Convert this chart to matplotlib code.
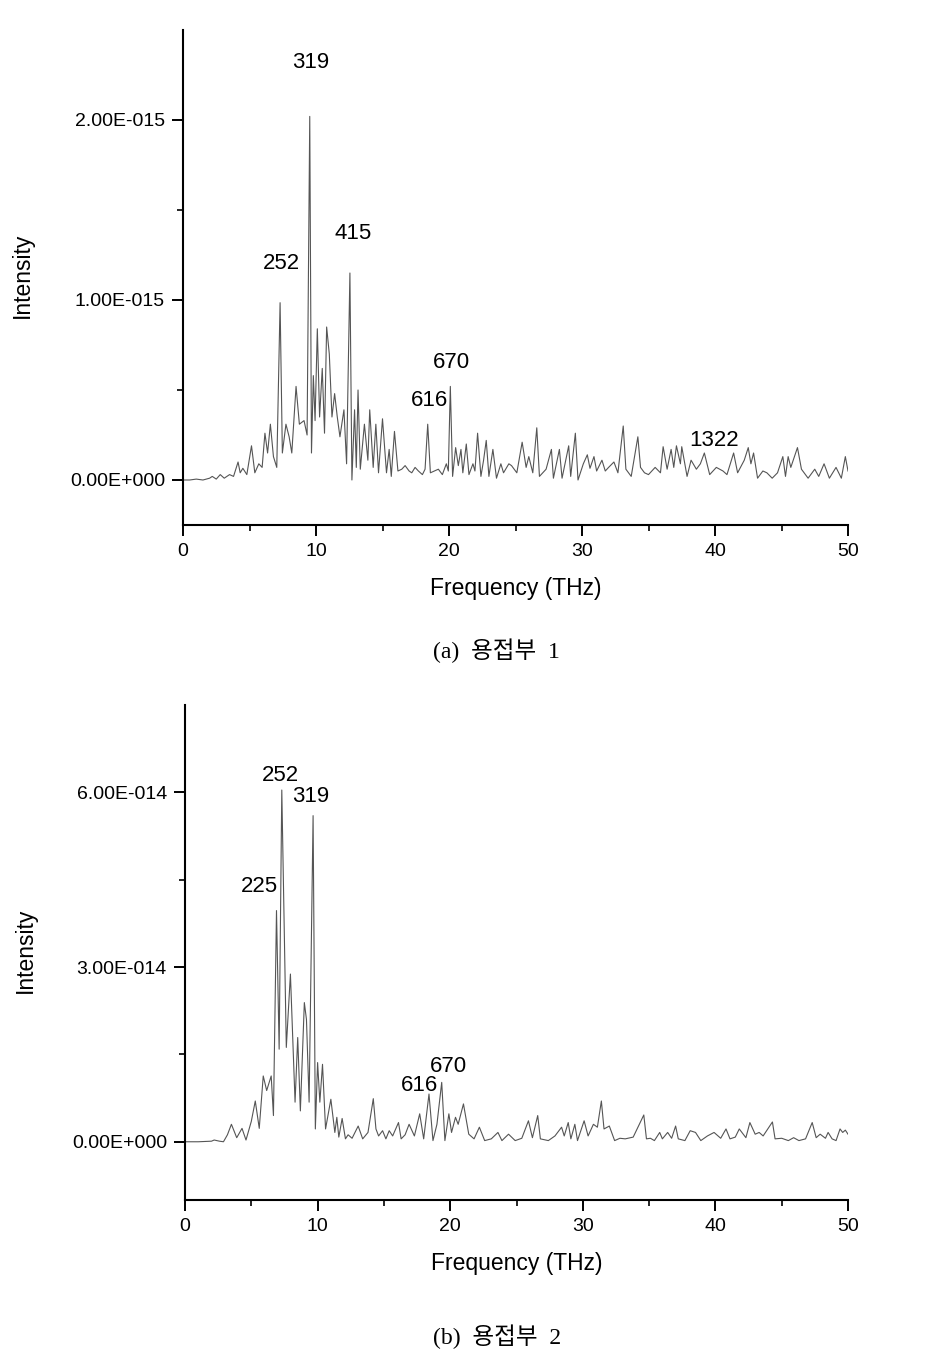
import numpy as np
import matplotlib
matplotlib.use("Agg")
import matplotlib.pyplot as plt

plt.rcParams['font.family'] = ['Liberation Sans', 'DejaVu Sans']

# (a) weld zone 1 -- intensity in units of 1e-15
freq_a = [0.0, 0.5, 1.0, 1.5, 2.0, 2.2, 2.5, 2.8, 3.1, 3.5, 3.8, 4.14, 4.3, 4.5, 4.8, 5.15, 5.4, 5.7, 5.95,
          6.16, 6.36, 6.57, 6.8, 7.05, 7.3, 7.47, 7.74, 7.98, 8.18, 8.5, 8.75, 9.1, 9.33, 9.53, 9.66, 9.8,
          9.93, 10.1, 10.27, 10.47, 10.64, 10.8, 11.0, 11.2, 11.4, 11.6, 11.8, 12.1, 12.3, 12.55, 12.7, 12.9,
          13.03, 13.16, 13.33, 13.64, 13.9, 14.04, 14.3, 14.5, 14.7, 15.0, 15.3, 15.5, 15.66, 15.9, 16.16,
          16.45, 16.7, 17.0, 17.2, 17.45, 17.7, 18.0, 18.2, 18.4, 18.6, 18.9, 19.2, 19.5, 19.8, 19.95, 20.1,
          20.27, 20.5, 20.7, 20.9, 21.04, 21.3, 21.5, 21.8, 21.95, 22.15, 22.4, 22.6, 22.8, 23.0, 23.3, 23.57,
          23.9, 24.1, 24.5, 24.7, 25.1, 25.5, 25.8, 26.0, 26.3, 26.6, 26.8, 27.05, 27.3, 27.7, 27.85, 28.3,
          28.5, 29.0, 29.15, 29.5, 29.7, 30.1, 30.4, 30.6, 30.9, 31.1, 31.5, 31.75, 32.0, 32.4, 32.7, 33.1,
          33.3, 33.7, 34.2, 34.4, 34.7, 35.0, 35.5, 35.9, 36.1, 36.4, 36.7, 36.9, 37.1, 37.4, 37.5, 37.9,
          38.2, 38.6, 38.9, 39.2, 39.6, 40.1, 40.6, 40.9, 41.4, 41.7, 42.2, 42.5, 42.7, 42.9, 43.2, 43.6,
          43.9, 44.3, 44.7, 45.1, 45.3, 45.5, 45.7, 46.2, 46.5, 47.0, 47.5, 47.8, 48.2, 48.6, 49.1, 49.5,
          49.8, 50.0]
inten_a = [0.0, 0.0, 0.005, 0.0, 0.01, 0.02, 0.005, 0.03, 0.01, 0.03, 0.02, 0.10, 0.04, 0.065, 0.03, 0.19, 0.04,
           0.09, 0.07, 0.26, 0.15, 0.31, 0.13, 0.07, 0.985, 0.15, 0.31, 0.24, 0.15, 0.52, 0.31, 0.33, 0.25,
           2.02, 0.15, 0.58, 0.33, 0.84, 0.35, 0.62, 0.26, 0.85, 0.70, 0.35, 0.48, 0.35, 0.24, 0.39, 0.09,
           1.15, 0.0, 0.39, 0.07, 0.50, 0.06, 0.31, 0.11, 0.39, 0.07, 0.31, 0.04, 0.34, 0.04, 0.17, 0.02,
           0.27, 0.05, 0.06, 0.08, 0.05, 0.04, 0.07, 0.05, 0.03, 0.06, 0.31, 0.04, 0.05, 0.06, 0.03, 0.09,
           0.05, 0.52, 0.02, 0.18, 0.08, 0.17, 0.04, 0.20, 0.03, 0.09, 0.05, 0.26, 0.02, 0.11, 0.22, 0.02,
           0.17, 0.01, 0.09, 0.04, 0.09, 0.08, 0.04, 0.21, 0.07, 0.13, 0.04, 0.29, 0.02, 0.04, 0.06, 0.17,
           0.01, 0.17, 0.01, 0.19, 0.02, 0.26, 0.0, 0.09, 0.14, 0.065, 0.13, 0.05, 0.11, 0.05, 0.07, 0.10,
           0.04, 0.30, 0.06, 0.02, 0.24, 0.07, 0.04, 0.03, 0.07, 0.04, 0.185, 0.06, 0.17, 0.07, 0.19, 0.09,
           0.185, 0.02, 0.11, 0.06, 0.09, 0.15, 0.03, 0.07, 0.05, 0.03, 0.15, 0.04, 0.11, 0.18, 0.09, 0.15,
           0.01, 0.05, 0.04, 0.01, 0.04, 0.13, 0.02, 0.13, 0.07, 0.18, 0.06, 0.01, 0.06, 0.02, 0.09, 0.01,
           0.07, 0.01, 0.13, 0.05]

# (b) weld zone 2 -- intensity in units of 1e-14
freq_b = [0.0, 1.0, 2.0, 2.2, 2.6, 2.9, 3.2, 3.5, 3.9, 4.3, 4.6, 5.0, 5.3, 5.6, 5.9, 6.16, 6.5, 6.67, 6.9, 7.1,
          7.3, 7.64, 7.95, 8.3, 8.5, 8.7, 9.0, 9.16, 9.36, 9.66, 9.83, 10.0, 10.17, 10.37, 10.6, 11.0, 11.3,
          11.45, 11.6, 11.85, 12.1, 12.3, 12.6, 13.06, 13.4, 13.8, 14.2, 14.4, 14.6, 14.9, 15.15, 15.4, 15.66,
          16.1, 16.3, 16.6, 16.9, 17.3, 17.7, 18.0, 18.4, 18.7, 19.0, 19.36, 19.6, 19.9, 20.1, 20.4, 20.6,
          21.0, 21.4, 21.8, 22.2, 22.6, 23.1, 23.6, 23.9, 24.4, 24.9, 25.4, 25.9, 26.2, 26.6, 26.8, 27.4,
          27.9, 28.4, 28.6, 28.9, 29.1, 29.4, 29.6, 30.1, 30.4, 30.8, 31.1, 31.4, 31.6, 32.0, 32.4, 32.8,
          33.2, 33.8, 34.6, 34.8, 35.1, 35.4, 35.8, 36.0, 36.4, 36.7, 37.0, 37.2, 37.7, 38.1, 38.5, 38.9,
          39.4, 39.9, 40.4, 40.8, 41.1, 41.5, 41.8, 42.3, 42.6, 43.0, 43.3, 43.6, 44.3, 44.5, 45.0, 45.5,
          45.9, 46.3, 46.8, 47.3, 47.6, 47.9, 48.3, 48.5, 48.8, 49.1, 49.4, 49.6, 49.8, 50.0]
inten_b = [0.0, 0.0, 0.01, 0.03, 0.01, 0.0, 0.12, 0.30, 0.07, 0.23, 0.03, 0.35, 0.70, 0.23, 1.13, 0.88, 1.13,
           0.45, 3.97, 1.59, 6.04, 1.62, 2.88, 0.68, 1.79, 0.53, 2.39, 2.1, 0.68, 5.6, 0.22, 1.36, 0.68, 1.33,
           0.22, 0.73, 0.16, 0.42, 0.08, 0.40, 0.05, 0.12, 0.06, 0.27, 0.05, 0.16, 0.74, 0.22, 0.10, 0.19,
           0.05, 0.19, 0.10, 0.33, 0.05, 0.12, 0.30, 0.10, 0.48, 0.05, 0.82, 0.02, 0.30, 1.02, 0.02, 0.48,
           0.16, 0.42, 0.30, 0.65, 0.13, 0.05, 0.25, 0.02, 0.05, 0.16, 0.02, 0.13, 0.02, 0.06, 0.36, 0.07,
           0.45, 0.05, 0.02, 0.10, 0.25, 0.10, 0.33, 0.05, 0.30, 0.02, 0.36, 0.10, 0.30, 0.25, 0.70, 0.22,
           0.27, 0.02, 0.06, 0.05, 0.08, 0.46, 0.05, 0.06, 0.02, 0.16, 0.05, 0.16, 0.06, 0.27, 0.05, 0.02,
           0.19, 0.16, 0.02, 0.10, 0.16, 0.06, 0.22, 0.05, 0.08, 0.22, 0.07, 0.33, 0.13, 0.16, 0.10, 0.34,
           0.05, 0.06, 0.02, 0.07, 0.02, 0.05, 0.33, 0.07, 0.13, 0.06, 0.16, 0.05, 0.02, 0.22, 0.16, 0.20,
           0.13]

# peak labels (wavenumber, cm^-1): text, x (THz), y (same units as the panel)
labels_a = ["319", "252", "415", "670", "616", "1322"]
lab_x_a = [9.62, 7.37, 12.78, 20.2, 18.57, 39.9]
lab_y_a = [2.32, 1.20, 1.37, 0.65, 0.44, 0.217]

labels_b = ["252", "319", "225", "616", "670"]
lab_x_b = [7.16, 9.5, 5.58, 17.65, 19.9]
lab_y_b = [6.29, 5.93, 4.38, 0.96, 1.29]

yticks_a = [0, 1e-15, 2e-15]
yticklabels_a = ["0.00E+000", "1.00E-015", "2.00E-015"]
yticks_b = [0, 3e-14, 6e-14]
yticklabels_b = ["0.00E+000", "3.00E-014", "6.00E-014"]

captions = ["(a)  용접부  1", "(b)  용접부  2"]

fig = plt.figure(figsize=(9.25, 13.69), dpi=100)
ax1 = fig.add_axes([183/925, 1-525/1369, 665/925, 495/1369])
ax2 = fig.add_axes([185/925, 1-1200/1369, 663/925, 495/1369])


def style(ax, yticks, yticklabels, ylim, minor):
    ax.set_xlim(0, 50)
    ax.set_ylim(*ylim)
    ax.set_xticks([0, 10, 20, 30, 40, 50])
    ax.set_xticks(np.arange(5, 50, 10), minor=True)
    ax.set_yticks(yticks)
    ax.set_yticklabels(yticklabels)
    ax.set_yticks(minor, minor=True)
    for s in ["top", "right"]:
        ax.spines[s].set_visible(False)
    for s in ["left", "bottom"]:
        ax.spines[s].set_linewidth(1.5)
    ax.tick_params(which="major", direction="out", length=8, width=1.4, labelsize=14, pad=5)
    ax.tick_params(which="minor", direction="out", length=4, width=1.2)
    ax.set_xlabel("Frequency (THz)", fontsize=16.5)
    ax.set_ylabel("Intensity", fontsize=16.5)
    ax.xaxis.set_label_coords(0.5, -0.105)
    ax.yaxis.set_label_coords(-0.224, 0.505)


ax1.plot(freq_a, np.array(inten_a)*1e-15, color="#555555", lw=0.8)
for t, x, y in zip(labels_a, lab_x_a, lab_y_a):
    ax1.text(x, y*1e-15, t, ha="center", va="center", fontsize=16)
style(ax1, yticks_a, yticklabels_a, (-0.25e-15, 2.5e-15), [0.5e-15, 1.5e-15])

ax2.plot(freq_b, np.array(inten_b)*1e-14, color="#555555", lw=0.8)
for t, x, y in zip(labels_b, lab_x_b, lab_y_b):
    ax2.text(x, y*1e-14, t, ha="center", va="center", fontsize=16)
style(ax2, yticks_b, yticklabels_b, (-1.0e-14, 7.5e-14), [1.5e-14, 4.5e-14])

fig.text(0.537, 1-651/1369, captions[0], ha="center", va="center", fontsize=17,
         family=["Liberation Serif", "Noto Sans CJK KR"])
fig.text(0.537, 1-1337/1369, captions[1], ha="center", va="center", fontsize=17,
         family=["Liberation Serif", "Noto Sans CJK KR"])

fig.savefig("out.png", dpi=100)
